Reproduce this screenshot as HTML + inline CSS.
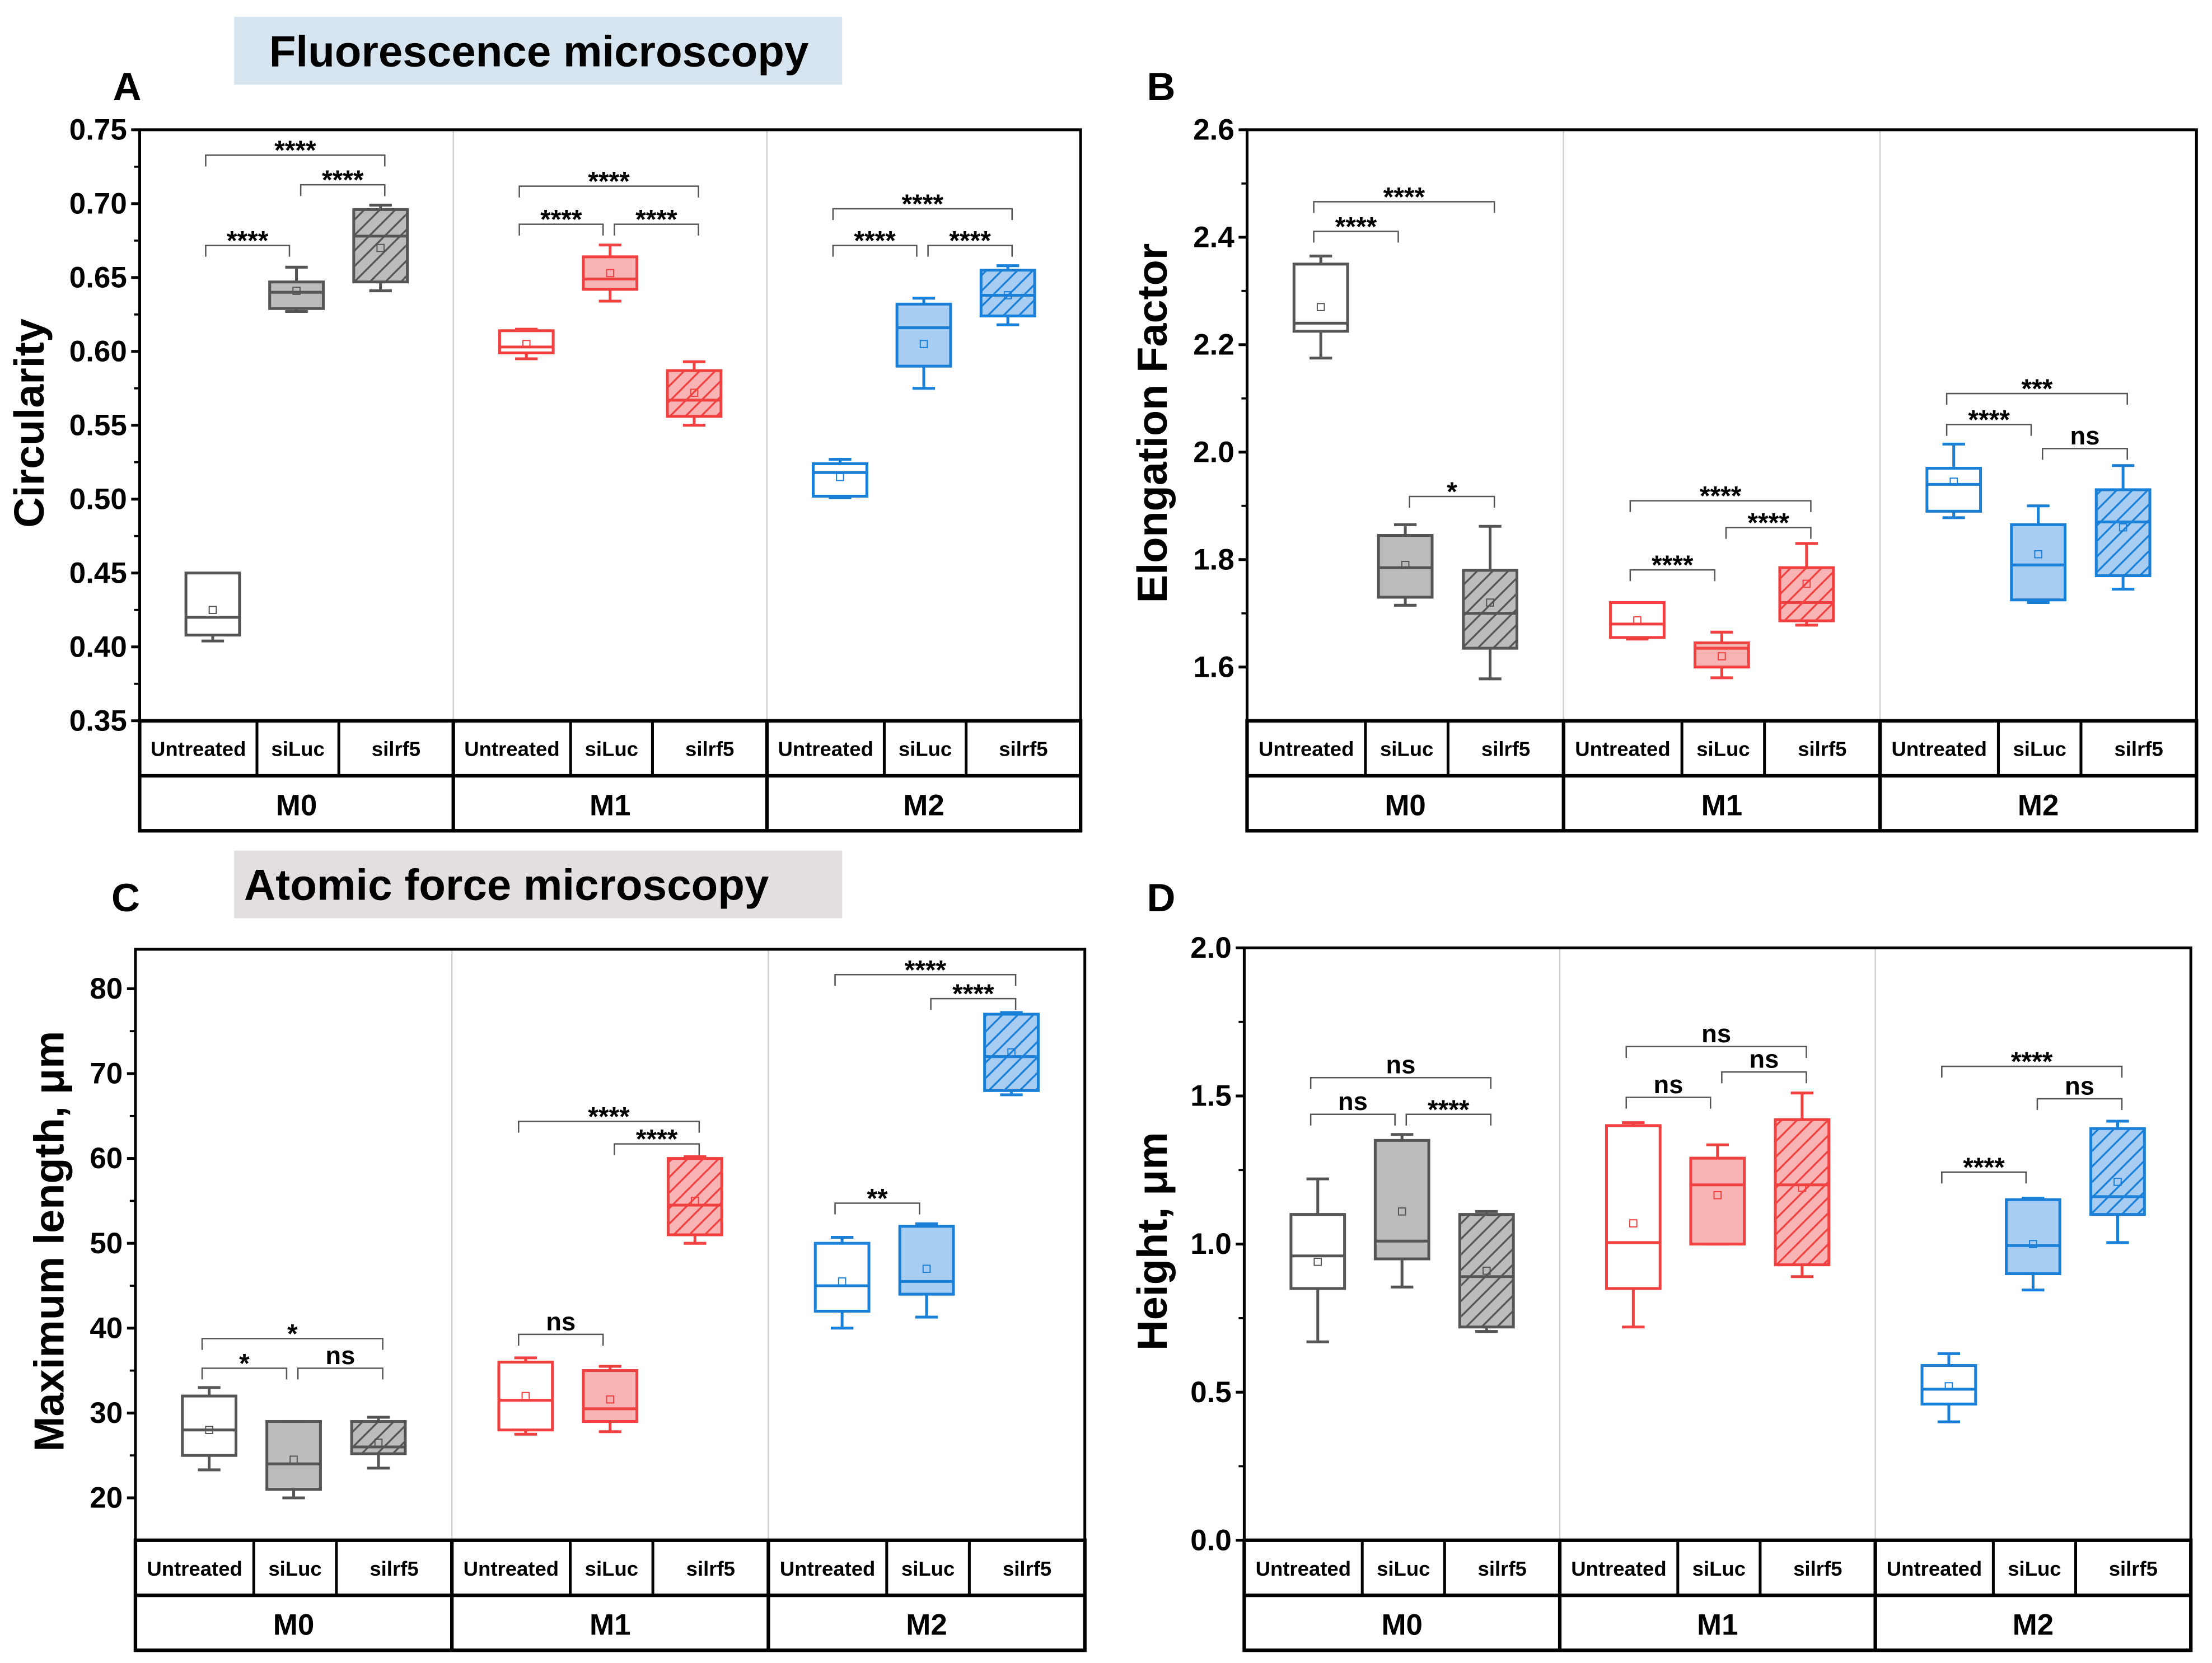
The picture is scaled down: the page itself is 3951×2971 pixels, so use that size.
<!DOCTYPE html>
<html><head><meta charset="utf-8">
<style>
html,body{margin:0;padding:0;background:#fff;}
svg{display:block;}
text{font-family:"Liberation Sans",sans-serif;font-weight:bold;}
</style></head>
<body>
<svg id="fig" width="3951" height="2971" viewBox="0 0 1568 1179" preserveAspectRatio="none" xmlns="http://www.w3.org/2000/svg">
<defs>
<pattern id="hatch-grey" patternUnits="userSpaceOnUse" width="11" height="11"><path d="M-2,2 L2,-2 M0,11 L11,0 M9,13 L13,9" stroke="#555" stroke-width="1.3"/></pattern>
<pattern id="hatch-red" patternUnits="userSpaceOnUse" width="11" height="11"><path d="M-2,2 L2,-2 M0,11 L11,0 M9,13 L13,9" stroke="#f04040" stroke-width="1.3"/></pattern>
<pattern id="hatch-blue" patternUnits="userSpaceOnUse" width="11" height="11"><path d="M-2,2 L2,-2 M0,11 L11,0 M9,13 L13,9" stroke="#1a7fd6" stroke-width="1.3"/></pattern>
</defs>
<rect x="166" y="12" width="431" height="48" fill="#d6e4f0"/>
<text x="382" y="47" font-size="31" text-anchor="middle">Fluorescence microscopy</text>
<rect x="166" y="603" width="431" height="48" fill="#e3dfe0"/>
<text x="359" y="638" font-size="31" text-anchor="middle">Atomic force microscopy</text>
<text x="80" y="71" font-size="28">A</text>
<text x="813" y="71" font-size="28">B</text>
<text x="79" y="646" font-size="28">C</text>
<text x="813" y="646" font-size="28">D</text>
<g id="panels"></g>
</svg>
<script>
// Stats per box: [min, q1, median, q3, max, mean]; order M0(U,siLuc,silrf5), M1(...), M2(...)
const groups = ['M0','M1','M2'];
const conditions = ['Untreated','siLuc','silrf5'];
const statsA = [[.404,.408,.42,.45,.448,.425],[.627,.629,.64,.647,.657,.641],[.641,.647,.678,.696,.699,.67],
 [.595,.599,.603,.614,.615,.605],[.634,.642,.649,.664,.672,.653],[.550,.556,.567,.587,.593,.572],
 [.501,.502,.518,.524,.527,.515],[.575,.590,.616,.632,.636,.605],[.618,.624,.638,.655,.658,.638]];
const statsB = [[2.175,2.225,2.24,2.35,2.365,2.27],[1.715,1.73,1.785,1.845,1.865,1.79],[1.578,1.635,1.70,1.78,1.862,1.72],
 [1.652,1.655,1.68,1.72,1.72,1.687],[1.58,1.60,1.635,1.645,1.665,1.62],[1.678,1.686,1.72,1.785,1.83,1.755],
 [1.878,1.89,1.94,1.97,2.015,1.945],[1.72,1.725,1.79,1.865,1.90,1.81],[1.745,1.77,1.87,1.93,1.975,1.86]];
const statsC = [[23.3,25,28,32,33,28],[20,21,24,29,29,24.5],[23.5,25.2,26,29,29.5,26.5],
 [27.5,28,31.5,36,36.5,32],[27.8,29,30.5,35,35.5,31.6],[50,51,54.5,60,60.2,55],
 [40,42,45,50,50.7,45.5],[41.3,44,45.5,52,52.3,47],[67.5,68,72,77,77.2,72.5]];
const statsD = [[.67,.85,.96,1.10,1.22,.94],[.855,.95,1.01,1.35,1.37,1.11],[.705,.72,.89,1.10,1.11,.91],
 [.72,.85,1.005,1.40,1.41,1.07],[1.0,1.0,1.20,1.29,1.335,1.165],[.89,.93,1.20,1.42,1.51,1.19],
 [.40,.46,.51,.59,.63,.52],[.845,.90,.995,1.15,1.155,1.0],[1.005,1.10,1.16,1.39,1.415,1.21]];
const ticksA = [0.35,0.40,0.45,0.50,0.55,0.60,0.65,0.70,0.75];
const ticksB = [1.6,1.8,2.0,2.2,2.4,2.6];
const ticksC = [20,30,40,50,60,70,80];
const ticksD = [0.0,0.5,1.0,1.5,2.0];
const labelsA = ['0.35','0.40','0.45','0.50','0.55','0.60','0.65','0.70','0.75'];
const labelsB = ['1.6','1.8','2.0','2.2','2.4','2.6'];
const labelsC = ['20','30','40','50','60','70','80'];
const labelsD = ['0.0','0.5','1.0','1.5','2.0'];
// brackets: [boxI, boxJ, label]
const sigA = [[0,1,'****'],[1,2,'****'],[0,2,'****'],[3,4,'****'],[4,5,'****'],[3,5,'****'],[6,7,'****'],[7,8,'****'],[6,8,'****']];
const sigB = [[0,1,'****'],[0,2,'****'],[1,2,'*'],[3,4,'****'],[4,5,'****'],[3,5,'****'],[6,7,'****'],[7,8,'ns'],[6,8,'***']];
const sigC = [[0,1,'*'],[1,2,'ns'],[0,2,'*'],[3,4,'ns'],[4,5,'****'],[3,5,'****'],[6,7,'**'],[7,8,'****'],[6,8,'****']];
const sigD = [[0,1,'ns'],[1,2,'****'],[0,2,'ns'],[3,4,'ns'],[4,5,'ns'],[3,5,'ns'],[6,7,'****'],[7,8,'ns'],[6,8,'****']];
const sigYA=[174,131,110,159,159,132,174,174,148];
const sigYB=[164,143,352,404,374,355,301,318,279];
const sigYC=[970,970,949,946,811,795,853,708,691];
const sigYD=[790,790,764,778,760,742,831,779,756];

const NS='http://www.w3.org/2000/svg';
const root=document.getElementById('panels');
const strokes=['#555555','#f04040','#1a7fd6'];
const fills=['#bcbcbc','#f8b4b4','#a8cdf3'];
const hatches=['url(#hatch-grey)','url(#hatch-red)','url(#hatch-blue)'];
function mk(tag,attrs,parent){const e=document.createElementNS(NS,tag);for(const k in attrs)e.setAttribute(k,attrs[k]);(parent||root).appendChild(e);return e;}

function panel(id,x0,x1,y0,y1,vmin,vmax,ticks,labels,stats,sig,sigY,ytitle,ytx,yty,minorStep){
  const g=mk('g',{});
  
  
  const Y=v=>y1-(v-vmin)/(vmax-vmin)*(y1-y0);
  const gw=(x1-x0)/3;
  const cx=i=>x0+Math.floor(i/3)*gw+gw*[0.233,0.5,0.768][i%3];
  for(let k=1;k<3;k++){const l=mk('line',{x1:x0+k*gw,x2:x0+k*gw,y1:y0,y2:y1,stroke:'#d0d0d0','stroke-width':1},g);
    }
  const fr=mk('rect',{x:x0,y:y0,width:x1-x0,height:y1-y0,fill:'none',stroke:'#000','stroke-width':2},g);
  
  const ax=mk('g',{},g);
  ticks.forEach((t,i)=>{const y=Y(t);
    mk('line',{x1:x0-6,x2:x0,y1:y,y2:y,stroke:'#000','stroke-width':2},ax);
    const tx=mk('text',{x:x0-9,y:y+7,'font-size':21,'text-anchor':'end'},ax);tx.textContent=labels[i];
    
    if(i<ticks.length-1){const ym=Y(t+minorStep);mk('line',{x1:x0-4,x2:x0,y1:ym,y2:ym,stroke:'#000','stroke-width':1.5},ax);}
  });
  const yt=mk('text',{x:ytx,y:yty,'font-size':30,'text-anchor':'middle',transform:`rotate(-90 ${ytx} ${yty})`},g);
  yt.textContent=ytitle;
  stats.forEach((s,i)=>{const c=Math.floor(i/3),k=i%3,x=cx(i),w=38,st=strokes[c];
    const bg=mk('g',{},g);
    mk('line',{x1:x,x2:x,y1:Y(s[0]),y2:Y(s[4]),stroke:st,'stroke-width':2},bg);
    mk('line',{x1:x-8,x2:x+8,y1:Y(s[0]),y2:Y(s[0]),stroke:st,'stroke-width':2},bg);
    mk('line',{x1:x-8,x2:x+8,y1:Y(s[4]),y2:Y(s[4]),stroke:st,'stroke-width':2},bg);
    const top=Y(Math.max(s[3],s[1])),h=Math.abs(Y(s[1])-Y(s[3]));
    mk('rect',{x:x-w/2,y:top,width:w,height:h,fill:k==0?'#fff':fills[c],stroke:'none'},bg);
    if(k==2)mk('rect',{x:x-w/2,y:top,width:w,height:h,fill:hatches[c]},bg);
    mk('rect',{x:x-w/2,y:top,width:w,height:h,fill:'none',stroke:st,'stroke-width':2},bg);
    mk('line',{x1:x-w/2,x2:x+w/2,y1:Y(s[2]),y2:Y(s[2]),stroke:st,'stroke-width':2},bg);
    mk('rect',{x:x-2.5,y:Y(s[5])-2.5,width:5,height:5,fill:'none',stroke:st,'stroke-width':0.8},bg);
  });
  sig.forEach((b,n)=>{const y=sigY[n],xa=cx(b[0])-5+(b[0]%3?8:0),xb=cx(b[1])-(b[1]%3==1&&b[0]%3==0?8:0)+3;
    const sg=mk('g',{},g);
    mk('path',{d:`M${xa},${y+8} V${y} H${xb} V${y+8}`,fill:'none',stroke:'#555','stroke-width':1},sg);
    const t=mk('text',{x:(xa+xb)/2,y:b[2]=='ns'?y-3:y+3,'font-size':b[2]=='ns'?18:19,'text-anchor':'middle','font-weight':b[2]=='ns'?'normal':'bold'},sg);t.textContent=b[2];
  });
  const tg=mk('g',{},g);
  const r1=y1+39,r2=y1+78;
  mk('rect',{x:x0,y:y1,width:x1-x0,height:r2-y1,fill:'none',stroke:'#000','stroke-width':2.5},tg);
  mk('line',{x1:x0,x2:x1,y1:r1,y2:r1,stroke:'#000','stroke-width':2.5},tg);
  for(let c=0;c<3;c++){const gx=x0+c*gw;
    if(c>0)mk('line',{x1:gx,x2:gx,y1:y1,y2:r2,stroke:'#000','stroke-width':2.5},tg);
    const b1=gx+gw*0.374,b2=gx+gw*0.635;
    mk('line',{x1:b1,x2:b1,y1:y1,y2:r1,stroke:'#000','stroke-width':2},tg);
    mk('line',{x1:b2,x2:b2,y1:y1,y2:r1,stroke:'#000','stroke-width':2},tg);
    [[gx,b1],[b1,b2],[b2,gx+gw]].forEach((p,k)=>{const t=mk('text',{x:(p[0]+p[1])/2,y:y1+25,'font-size':14.5,'text-anchor':'middle'},tg);t.textContent=conditions[k];
      });
    const gt=mk('text',{x:gx+gw/2,y:r1+28,'font-size':21,'text-anchor':'middle'},tg);gt.textContent=groups[c];
    
  }
}
panel('a',99,766,92,511,0.35,0.75,ticksA,labelsA,statsA,sigA,sigYA,'Circularity',31,300,0.025);
panel('b',884,1557,92,511,1.5,2.6,ticksB,labelsB,statsB,sigB,sigYB,'Elongation Factor',827,300,0.1);
panel('c',96,769,673,1092,15,84.65,ticksC,labelsC,statsC,sigC,sigYC,'Maximum length, \u03bcm',45,880,5);
panel('d',882,1553,672,1092,0,2.0,ticksD,labelsD,statsD,sigD,sigYD,'Height, \u03bcm',827,880,0.25);
</script>
</body></html>
